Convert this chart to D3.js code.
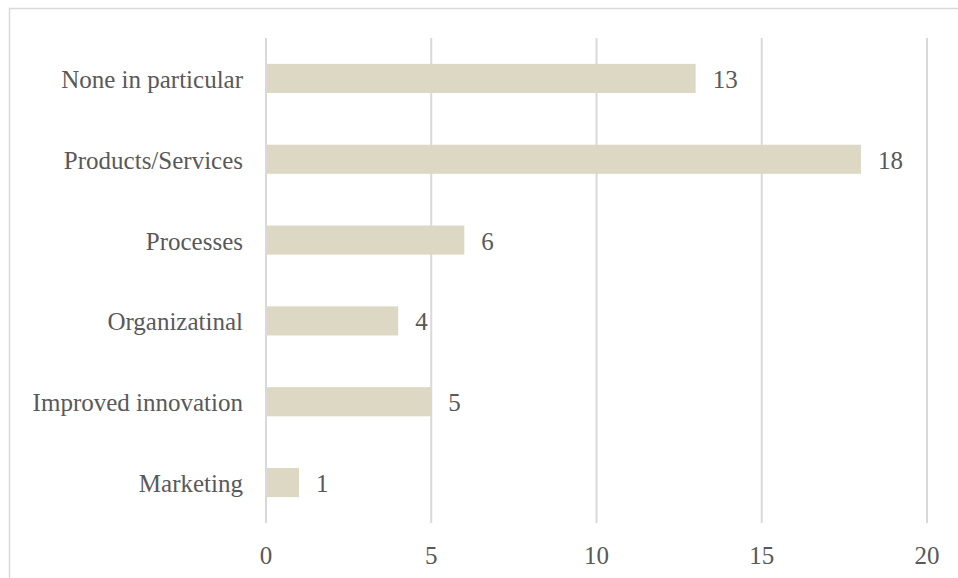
<!DOCTYPE html>
<html>
<head>
<meta charset="utf-8">
<script src="https://cdn.jsdelivr.net/npm/d3@7"></script>
<style>
  body { margin:0; background:#fff; }
  svg text { font-family: "Liberation Serif", "DejaVu Serif", serif; fill:#595959; }
</style>
</head>
<body>
<div id="chart"></div>
<script>
// Kategorien und Werte, von oben nach unten
const categories = ["None in particular","Products/Services","Processes","Organizatinal","Improved innovation","Marketing"];
const values = [13, 18, 6, 4, 5, 1];
const ticks = [0, 5, 10, 15, 20];

const W = 958, H = 578, m = {l:266, r:31, t:38, b:55};
const FS = 25;
const svg = d3.select("#chart").append("svg").attr("width",W).attr("height",H);

// Rahmen
svg.append("rect").attr("x",9.5).attr("y",8.5).attr("width",W+10).attr("height",H+10)
  .attr("fill","none").attr("stroke","#d9d9d9").attr("stroke-width",1.5);

const x = d3.scaleLinear().domain([0,20]).range([m.l, W-m.r]);
const y = d3.scaleBand().domain(categories).range([m.t, H-m.b]).paddingInner(0.64).paddingOuter(0.32);

// Gitterlinien
svg.append("g").selectAll("line").data(ticks).join("line")
  .attr("x1",d=>x(d)).attr("x2",d=>x(d)).attr("y1",m.t).attr("y2",H-m.b)
  .attr("stroke","#d9d9d9").attr("stroke-width",2);

// Achsenbeschriftung
svg.append("g").selectAll("text").data(ticks).join("text")
  .attr("x",d=>x(d)).attr("y",564).attr("text-anchor","middle").attr("font-size",FS).text(d=>d);

// Balken
svg.append("g").selectAll("rect").data(values).join("rect")
  .attr("x",x(0)+1).attr("y",(d,i)=>y(categories[i]))
  .attr("width",d=>x(d)-x(0)-1).attr("height",y.bandwidth())
  .attr("fill","#ddd8c3");

// Werte
svg.append("g").selectAll("text").data(values).join("text")
  .attr("x",d=>x(d)+17).attr("y",(d,i)=>y(categories[i])+y.bandwidth()/2).attr("dy","0.38em")
  .attr("font-size",FS).text(d=>d);

// Kategorien
svg.append("g").selectAll("text").data(categories).join("text")
  .attr("x",m.l-23).attr("y",d=>y(d)+y.bandwidth()/2).attr("dy","0.38em")
  .attr("text-anchor","end").attr("font-size",FS).text(d=>d);
</script>
</body>
</html>
